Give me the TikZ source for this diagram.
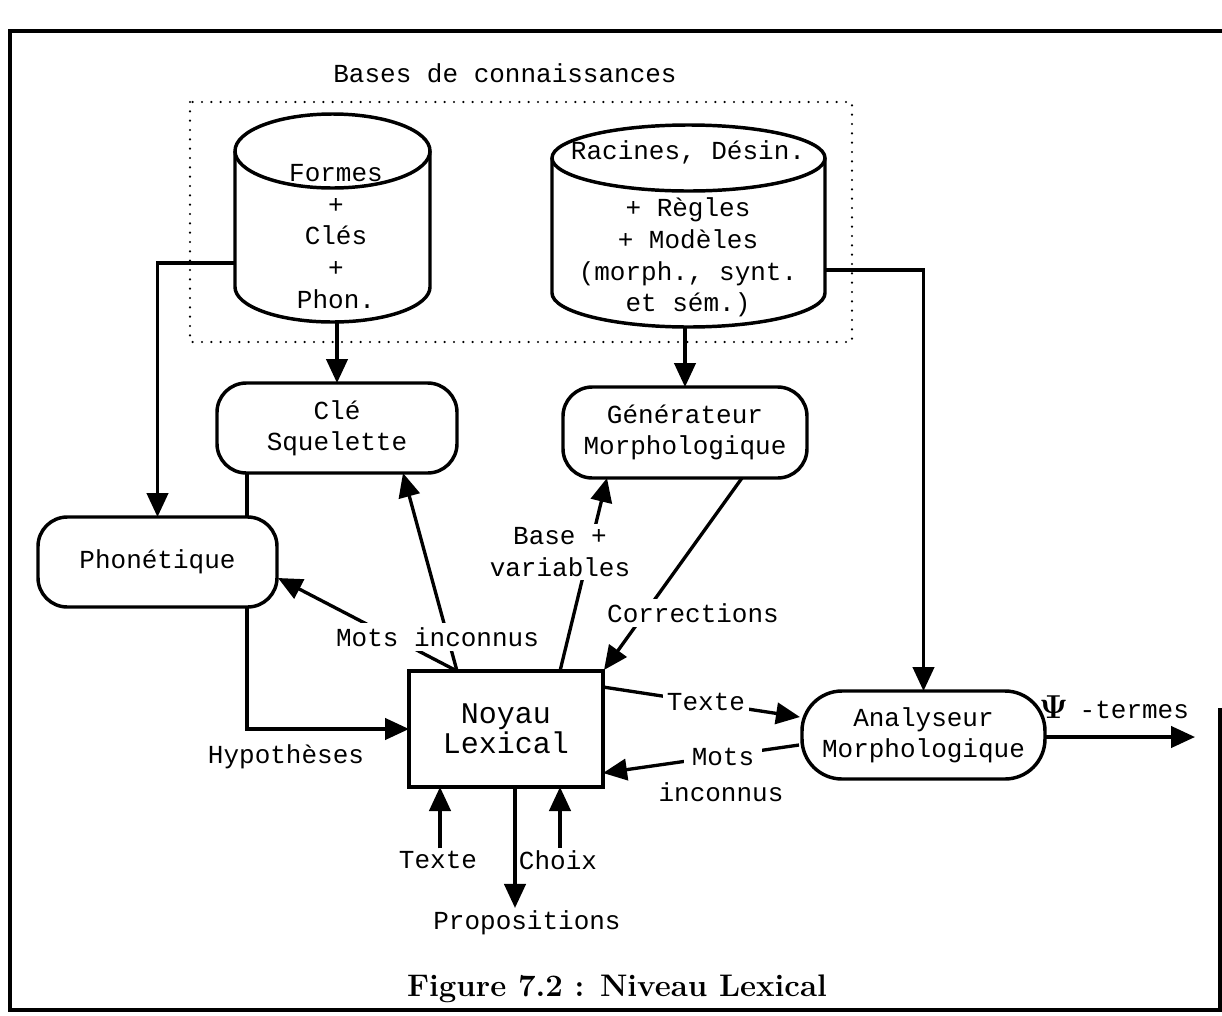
\documentclass[tikz,border=0pt]{standalone}
\usepackage{fontspec}
\usetikzlibrary{arrows.meta,calc}
\newfontfamily\monofont{Liberation Mono}
\newcommand\mono{\monofont\fontsize{19.5}{23.5}\selectfont}
\newcommand\monocyl{\monofont\fontsize{19.5}{23.8}\selectfont}
\newcommand\monobig{\monofont\fontsize{22.5}{22.5}\selectfont}

\begin{document}
\begin{tikzpicture}[x=0.75pt,y=-0.75pt,
  lbl/.style={font=\mono, inner sep=2pt},
  wl/.style={lbl, fill=white, inner sep=3pt},
  anchorbox/.style={inner sep=0pt, outer sep=0pt},
  boxline/.style={line width=2.6pt},
  rbox/.style={draw, line width=2.6pt, rounded corners=22pt, inner sep=0pt,
    outer sep=0pt, align=center, font=\mono},
  ln/.style={line width=2.5pt},
  arr/.style={line width=2.5pt, -{Triangle[length=18pt,width=16pt]}},
  dotbox/.style={draw, line width=1.8pt, dash pattern=on 0pt off 7pt, line cap=round}]
\useasboundingbox (0,0) rectangle (1222,1015);

% page frame
\draw[line width=2.4pt] (1220,708) -- (1220,1010) -- (10,1010) -- (10,31) -- (1222,31);

% knowledge bases
\node[lbl] (kb) at (505,73) {Bases de connaissances};
\draw[dotbox] (190,102) rectangle (852,342);

\node[anchorbox, minimum width=146.25pt, minimum height=155.25pt] (db1) at (332.5,218.5) {};
\node[anchorbox, minimum width=204.75pt, minimum height=151.5pt] (db2) at (688.5,226) {};

\draw[boxline] (db1.west |- 0,151) -- (db1.west |- 0,287)
  arc[start angle=180, end angle=360, x radius=73.125pt, y radius=26.25pt]
  -- (db1.east |- 0,151);
\draw[boxline] (db1.center |- 0,151) ellipse [x radius=73.125pt, y radius=27.75pt];

\draw[boxline] (db2.west |- 0,158) -- (db2.west |- 0,293)
  arc[start angle=180, end angle=360, x radius=102.375pt, y radius=25.5pt]
  -- (db2.east |- 0,158);
\draw[boxline] (db2.center |- 0,158) ellipse [x radius=102.375pt, y radius=24.75pt];

\node[lbl, align=center, font=\monocyl] (db1t) at (336,236.5) {Formes\\+\\Clés\\+\\Phon.};
\node[lbl] (db2a) at (688,152) {Racines, Désin.};
\node[lbl, align=center, font=\monocyl] (db2t) at (688,257.5) {+ Règles\\+ Modèles\\(morph., synt.\\et sém.)};

% processing modules
\node[rbox, minimum width=180pt, minimum height=67.5pt] (cle) at (337,428) {Clé\\Squelette};
\node[rbox, minimum width=179.25pt, minimum height=67.5pt] (phon) at (157.5,562) {Phonétique};
\node[rbox, minimum width=183pt, minimum height=68.25pt] (gen) at (685,432.5) {Générateur\\Morphologique};
\node[draw, line width=2.6pt, minimum width=145.5pt, minimum height=87pt, align=center,
  font=\monobig, inner sep=0pt, outer sep=0pt] (noy) at (506,729) {Noyau\\Lexical};
\node[rbox, rounded corners=30pt, minimum width=182.25pt, minimum height=66pt] (ana) at (923.5,735) {Analyseur\\Morphologique};

% links from the knowledge bases
\draw[arr] (cle.north |- db1.south) -- (cle.north);
\draw[arr] (gen.north |- db2.south) -- (gen.north);
\draw[arr] (db1.west |- 0,263) -| (phon.north);
\draw[arr] (db2.east |- 0,270) -| (ana.north);

% hypotheses path
\draw[ln] (cle.south -| 247,0) -- (phon.north -| 247,0);
\draw[arr] (phon.south -| 247,0) |- (noy.west);
\node[lbl] (hyp) at (286,757) {Hypothèses};

% unknown words towards phonetics and key
\coordinate (nt) at (noy.north -| 457,0);
\draw[arr] (nt) -- ($(phon.east)+(1,16)$);
\draw[arr] (nt) -- (cle.south -| 403,0);
\node[wl] (mi) at (437.5,637) {Mots inconnus};

% base + variables
\draw[arr] (noy.north -| 560,0) -- (gen.south -| 607,0);
\node[wl, align=center] (bv) at (560,552) {Base +\\variables};

% corrections
\draw[arr] (gen.south -| 742,0) -- ($(noy.north east)+(1,-1)$);
\node[wl] (cor) at (693,613) {Corrections};

% exchanges with the analyser
\draw[arr] (noy.east |- 0,687) -- ($(ana.west)+(-2,-18)$);
\node[wl] (tx) at (706,702) {Texte};
\draw[arr] ($(ana.west)+(-3,10)$) -- (noy.east |- 0,773);
\node[wl, inner xsep=6pt] (mi2) at (723,757) {Mots};
\node[lbl] (mi3) at (721,792) {inconnus};

% user interaction
\node[lbl] (tb) at (438,860) {Texte};
\node[lbl] (cb) at (558,860) {Choix};
\node[lbl] (pb) at (527,923) {Propositions};
\draw[arr] (tb.north -| 440,0) -- (noy.south -| 440,0);
\draw[arr] (cb.north -| 560,0) -- (noy.south -| 560,0);
\draw[arr] (noy.south -| 515,0) -- (pb.north -| 515,0);

% output
\coordinate (out) at (1195,737);
\draw[arr] (ana.east |- out) -- (out);
\node[lbl] (psi) at (1114,707) {{\fontsize{24}{24}\selectfont\boldmath$\Psi$}\hspace{-3pt} -termes};

% caption
\node[font=\fontsize{23.4}{28}\selectfont\bfseries, anchor=base, inner sep=0pt] (cap) at (617,996) {Figure 7.2 : Niveau Lexical};
\end{tikzpicture}
\end{document}
